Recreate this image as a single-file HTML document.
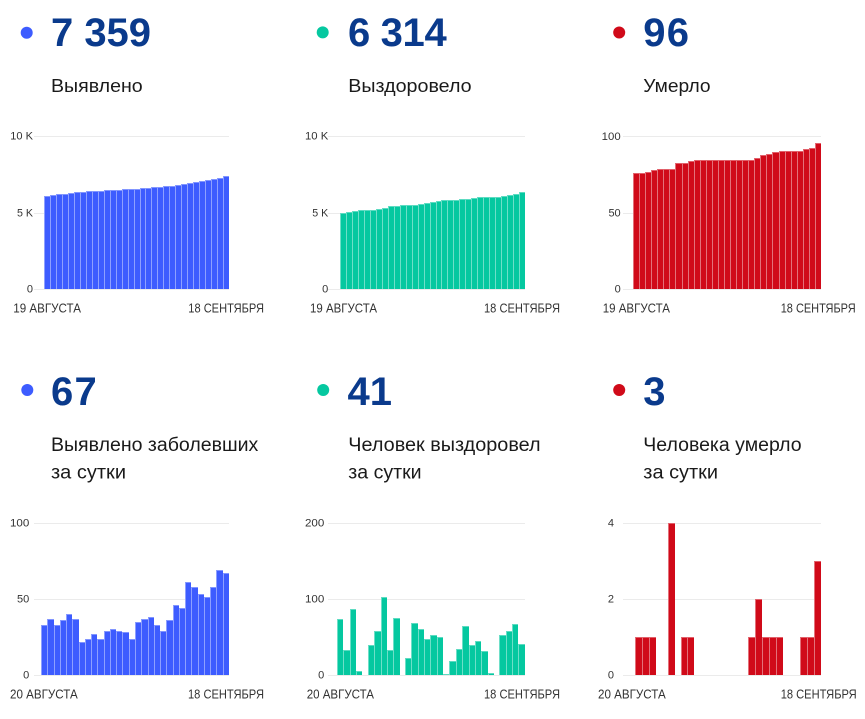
<!DOCTYPE html>
<html>
<head>
<meta charset="utf-8">
<style>
html,body{margin:0;padding:0;background:#fff;}
body{width:865px;height:719px;position:relative;overflow:hidden;font-family:"Liberation Sans",sans-serif;}
svg{position:absolute;left:0;top:0;}
.bars{position:absolute;display:flex;align-items:flex-end;}
.bars i{flex:1 1 0;display:block;box-sizing:border-box;border-left:1px solid rgba(255,255,255,.42);border-top:1px solid rgba(255,255,255,.35);}
.bars i.z{border:none;height:0;}
.b i{background:#3d5cff;}
.t i{background:#05c8a0;}
.r i{background:#d00a19;}
</style>
</head>
<body>
<svg width="865" height="719" viewBox="0 0 865 719">
<g fill="#ebebeb">
<rect x="34" y="136" width="195" height="1"/><rect x="34" y="213" width="195" height="1"/><rect x="34" y="289" width="195" height="1"/>
<rect x="328" y="136" width="197" height="1"/><rect x="328" y="213" width="197" height="1"/><rect x="328" y="289" width="197" height="1"/>
<rect x="623" y="136" width="198" height="1"/><rect x="623" y="213" width="198" height="1"/><rect x="623" y="289" width="198" height="1"/>
<rect x="34" y="523" width="195" height="1"/><rect x="34" y="599" width="195" height="1"/><rect x="34" y="675" width="195" height="1"/>
<rect x="328" y="523" width="197" height="1"/><rect x="328" y="599" width="197" height="1"/><rect x="328" y="675" width="197" height="1"/>
<rect x="623" y="523" width="198" height="1"/><rect x="623" y="599" width="198" height="1"/><rect x="623" y="675" width="198" height="1"/>
</g>
<circle cx="26.7" cy="32.8" r="6" fill="#3d5cff"/>
<circle cx="322.7" cy="32.4" r="6" fill="#05c8a0"/>
<circle cx="619.2" cy="32.5" r="6" fill="#d00a19"/>
<circle cx="27.3" cy="390" r="6" fill="#3d5cff"/>
<circle cx="323.2" cy="390" r="6" fill="#05c8a0"/>
<circle cx="619.2" cy="390" r="6" fill="#d00a19"/>
<g font-family="Liberation Sans, sans-serif" font-weight="bold" font-size="40" fill="#0a3a8c">
<text x="51" y="46" textLength="100">7 359</text>
<text x="348" y="46" textLength="98.7">6 314</text>
<text x="643.3" y="46" textLength="45.7">96</text>
<text x="51" y="405" textLength="45.7">67</text>
<text x="347.5" y="405">41</text>
<text x="643.3" y="405" textLength="22.7">3</text>
</g>
<g font-family="Liberation Sans, sans-serif" font-size="18" fill="#1a1a1a">
<text x="51" y="92" textLength="91.7" lengthAdjust="spacingAndGlyphs">Выявлено</text>
<text x="348.3" y="92" textLength="123.3" lengthAdjust="spacingAndGlyphs">Выздоровело</text>
<text x="643.3" y="92" textLength="67.3" lengthAdjust="spacingAndGlyphs">Умерло</text>
<text x="51" y="451" font-size="19" textLength="207.3" lengthAdjust="spacingAndGlyphs">Выявлено заболевших</text>
<text x="51" y="478.5" font-size="19" textLength="75" lengthAdjust="spacingAndGlyphs">за сутки</text>
<text x="348.3" y="451" font-size="19" textLength="192.3" lengthAdjust="spacingAndGlyphs">Человек выздоровел</text>
<text x="348.3" y="478.5" font-size="19" textLength="73.3" lengthAdjust="spacingAndGlyphs">за сутки</text>
<text x="643.3" y="451" font-size="19" textLength="158.3" lengthAdjust="spacingAndGlyphs">Человека умерло</text>
<text x="643.3" y="478.5" font-size="19" textLength="74.7" lengthAdjust="spacingAndGlyphs">за сутки</text>
</g>
<g font-family="Liberation Sans, sans-serif" font-size="11" fill="#333" text-anchor="end">
<text x="33" y="139.5" textLength="22.7" lengthAdjust="spacingAndGlyphs">10 K</text>
<text x="33" y="216.7" textLength="16" lengthAdjust="spacingAndGlyphs">5 K</text>
<text x="33" y="292.7">0</text>
<text x="328.3" y="139.5" textLength="23.3" lengthAdjust="spacingAndGlyphs">10 K</text>
<text x="328.3" y="216.7" textLength="16" lengthAdjust="spacingAndGlyphs">5 K</text>
<text x="328.3" y="292.7">0</text>
<text x="620.7" y="140" textLength="19" lengthAdjust="spacingAndGlyphs">100</text>
<text x="620.7" y="216.7">50</text>
<text x="620.7" y="292.7">0</text>
<text x="29.3" y="526.3" textLength="19.3" lengthAdjust="spacingAndGlyphs">100</text>
<text x="29.3" y="602.7">50</text>
<text x="29.3" y="678.5">0</text>
<text x="324.3" y="526.3" textLength="19.3" lengthAdjust="spacingAndGlyphs">200</text>
<text x="324.3" y="602.7" textLength="19.3" lengthAdjust="spacingAndGlyphs">100</text>
<text x="324.3" y="678.5">0</text>
<text x="614" y="526.3">4</text>
<text x="614" y="602.7">2</text>
<text x="614" y="678.5">0</text>
</g>
<g font-family="Liberation Sans, sans-serif" font-size="13" fill="#333">
<text x="13.3" y="312.5" textLength="67.7" lengthAdjust="spacingAndGlyphs">19 АВГУСТА</text>
<text x="188.3" y="312.5" textLength="75.7" lengthAdjust="spacingAndGlyphs">18 СЕНТЯБРЯ</text>
<text x="310" y="312.5" textLength="67" lengthAdjust="spacingAndGlyphs">19 АВГУСТА</text>
<text x="484" y="312.5" textLength="76" lengthAdjust="spacingAndGlyphs">18 СЕНТЯБРЯ</text>
<text x="602.7" y="312.5" textLength="67.3" lengthAdjust="spacingAndGlyphs">19 АВГУСТА</text>
<text x="780.7" y="312.5" textLength="75" lengthAdjust="spacingAndGlyphs">18 СЕНТЯБРЯ</text>
<text x="10" y="698.3" textLength="67.7" lengthAdjust="spacingAndGlyphs">20 АВГУСТА</text>
<text x="188" y="698.3" textLength="76" lengthAdjust="spacingAndGlyphs">18 СЕНТЯБРЯ</text>
<text x="306.7" y="698.3" textLength="67.3" lengthAdjust="spacingAndGlyphs">20 АВГУСТА</text>
<text x="484" y="698.3" textLength="76" lengthAdjust="spacingAndGlyphs">18 СЕНТЯБРЯ</text>
<text x="598" y="698.3" textLength="67.7" lengthAdjust="spacingAndGlyphs">20 АВГУСТА</text>
<text x="780.7" y="698.3" textLength="76" lengthAdjust="spacingAndGlyphs">18 СЕНТЯБРЯ</text>
</g>
</svg>

<div class="bars b" style="left:44px;top:136px;width:185px;height:153px;">
<i style="height:60.95%"></i><i style="height:61.39%"></i><i style="height:61.82%"></i><i style="height:62.26%"></i><i style="height:62.69%"></i><i style="height:63.12%"></i><i style="height:63.56%"></i><i style="height:63.77%"></i><i style="height:63.99%"></i><i style="height:64.21%"></i><i style="height:64.43%"></i><i style="height:64.64%"></i><i style="height:64.86%"></i><i style="height:65.08%"></i><i style="height:65.29%"></i><i style="height:65.51%"></i><i style="height:65.73%"></i><i style="height:65.94%"></i><i style="height:66.38%"></i><i style="height:66.59%"></i><i style="height:67.03%"></i><i style="height:67.46%"></i><i style="height:67.9%"></i><i style="height:68.33%"></i><i style="height:68.98%"></i><i style="height:69.63%"></i><i style="height:70.28%"></i><i style="height:70.93%"></i><i style="height:71.58%"></i><i style="height:72.4%"></i><i style="height:73.59%"></i>
</div>

<div class="bars t" style="left:340px;top:136px;width:185px;height:153px;">
<i style="height:49.7%"></i><i style="height:50.5%"></i><i style="height:51.2%"></i><i style="height:51.8%"></i><i style="height:51.8%"></i><i style="height:51.8%"></i><i style="height:52.5%"></i><i style="height:53.1%"></i><i style="height:54%"></i><i style="height:54.4%"></i><i style="height:54.9%"></i><i style="height:54.9%"></i><i style="height:54.9%"></i><i style="height:55.7%"></i><i style="height:56.4%"></i><i style="height:57%"></i><i style="height:57.7%"></i><i style="height:58.1%"></i><i style="height:58.1%"></i><i style="height:58.1%"></i><i style="height:58.6%"></i><i style="height:59%"></i><i style="height:59.4%"></i><i style="height:60%"></i><i style="height:60.3%"></i><i style="height:60.3%"></i><i style="height:60.3%"></i><i style="height:60.7%"></i><i style="height:61.4%"></i><i style="height:62%"></i><i style="height:63.14%"></i>
</div>

<div class="bars r" style="left:633px;top:137px;width:188px;height:152px;">
<i style="height:76%"></i><i style="height:76%"></i><i style="height:77%"></i><i style="height:78%"></i><i style="height:79%"></i><i style="height:79%"></i><i style="height:79%"></i><i style="height:83%"></i><i style="height:83%"></i><i style="height:84%"></i><i style="height:85%"></i><i style="height:85%"></i><i style="height:85%"></i><i style="height:85%"></i><i style="height:85%"></i><i style="height:85%"></i><i style="height:85%"></i><i style="height:85%"></i><i style="height:85%"></i><i style="height:85%"></i><i style="height:86%"></i><i style="height:88%"></i><i style="height:89%"></i><i style="height:90%"></i><i style="height:91%"></i><i style="height:91%"></i><i style="height:91%"></i><i style="height:91%"></i><i style="height:92%"></i><i style="height:93%"></i><i style="height:96%"></i>
</div>

<div class="bars b" style="left:41px;top:523px;width:188px;height:152px;">
<i style="height:33%"></i><i style="height:37%"></i><i style="height:33%"></i><i style="height:36%"></i><i style="height:40%"></i><i style="height:37%"></i><i style="height:22%"></i><i style="height:24%"></i><i style="height:27%"></i><i style="height:24%"></i><i style="height:29%"></i><i style="height:30%"></i><i style="height:29%"></i><i style="height:28%"></i><i style="height:24%"></i><i style="height:35%"></i><i style="height:37%"></i><i style="height:38%"></i><i style="height:33%"></i><i style="height:29%"></i><i style="height:36%"></i><i style="height:46%"></i><i style="height:44%"></i><i style="height:61%"></i><i style="height:58%"></i><i style="height:53%"></i><i style="height:51%"></i><i style="height:58%"></i><i style="height:69%"></i><i style="height:67%"></i>
</div>

<div class="bars t" style="left:337px;top:523px;width:188px;height:152px;">
<i style="height:37%"></i><i style="height:16.5%"></i><i style="height:43.5%"></i><i style="height:2.5%"></i><i class="z"></i><i style="height:19.5%"></i><i style="height:29%"></i><i style="height:51%"></i><i style="height:16.5%"></i><i style="height:37.5%"></i><i class="z"></i><i style="height:11%"></i><i style="height:34%"></i><i style="height:30%"></i><i style="height:23.5%"></i><i style="height:26%"></i><i style="height:25%"></i><i style="height:0.7%"></i><i style="height:9%"></i><i style="height:17%"></i><i style="height:32.5%"></i><i style="height:20%"></i><i style="height:22.5%"></i><i style="height:15.5%"></i><i style="height:1%"></i><i class="z"></i><i style="height:26.5%"></i><i style="height:29%"></i><i style="height:33.5%"></i><i style="height:20.5%"></i>
</div>

<div class="bars r" style="left:629px;top:523px;width:192px;height:152px;">
<i class="z"></i><i style="height:25%"></i><i style="height:25%"></i><i style="height:25%"></i><i class="z"></i><i class="z"></i><i style="height:100%"></i><i class="z"></i><i style="height:25%"></i><i style="height:25%"></i><i class="z"></i><i class="z"></i><i class="z"></i><i class="z"></i><i class="z"></i><i class="z"></i><i class="z"></i><i class="z"></i><i class="z"></i><i style="height:25%"></i><i style="height:50%"></i><i style="height:25%"></i><i style="height:25%"></i><i style="height:25%"></i><i class="z"></i><i class="z"></i><i class="z"></i><i style="height:25%"></i><i style="height:25%"></i><i style="height:75%"></i>
</div>
</body>
</html>
